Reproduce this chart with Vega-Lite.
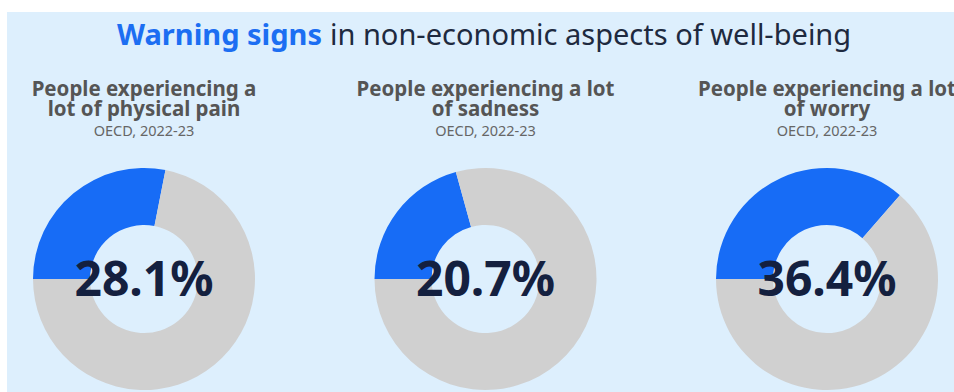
{
  "$schema": "https://vega.github.io/schema/vega-lite/v6.json",
  "autosize": {"type": "none"},
  "width": 947,
  "height": 380,
  "padding": {"left": 7, "top": 12, "right": 0, "bottom": 0},
  "background": "#ffffff",
  "config": {"view": {"fill": "#ddeffd", "stroke": null}, "font": "Noto Sans"},
  "datasets": {
    "parts": [
      {"chart": "Physical pain", "part": "yes", "share": 28.1},
      {"chart": "Physical pain", "part": "no", "share": 71.9},
      {"chart": "Sadness", "part": "yes", "share": 20.7},
      {"chart": "Sadness", "part": "no", "share": 79.3},
      {"chart": "Worry", "part": "yes", "share": 36.4},
      {"chart": "Worry", "part": "no", "share": 63.6}
    ],
    "charts": [
      {"chart": "Physical pain", "title": ["People experiencing a", "lot of physical pain"], "source": "OECD, 2022-23", "value": 0.281},
      {"chart": "Sadness", "title": ["People experiencing a lot", "of sadness"], "source": "OECD, 2022-23", "value": 0.207},
      {"chart": "Worry", "title": ["People experiencing a lot", "of worry"], "source": "OECD, 2022-23", "value": 0.364}
    ],
    "heading": [
      {"bold": "Warning signs", "rest": "in non-economic aspects of well-being"}
    ]
  },
  "layer": [
    {
      "data": {"name": "parts"},
      "transform": [
        {"stack": "share", "groupby": ["chart"], "sort": [{"field": "part", "order": "descending"}], "as": ["t0", "t1"]}
      ],
      "mark": {"type": "arc", "outerRadius": 111, "innerRadius": 54},
      "encoding": {
        "x": {"field": "chart", "type": "nominal", "scale": {"type": "point", "domain": ["Physical pain", "Sadness", "Worry"], "range": [137, 820], "padding": 0}, "axis": null},
        "y": {"value": 267},
        "theta": {"field": "t0", "type": "quantitative", "scale": {"domain": [0, 100], "range": [4.71238898, 10.99557429]}},
        "theta2": {"field": "t1"},
        "color": {"field": "part", "type": "nominal", "scale": {"domain": ["yes", "no"], "range": ["#176cf6", "#d0d0d0"]}, "legend": null}
      }
    },
    {
      "data": {"name": "charts"},
      "mark": {"type": "text", "fontSize": 48, "fontWeight": "bold", "color": "#14203f", "align": "center", "baseline": "alphabetic"},
      "encoding": {
        "x": {"field": "chart", "type": "nominal"},
        "y": {"value": 284},
        "text": {"field": "value", "format": ".1%"}
      }
    },
    {
      "data": {"name": "charts"},
      "mark": {"type": "text", "fontSize": 20.5, "fontWeight": "bold", "color": "#555555", "align": "center", "baseline": "alphabetic", "lineHeight": 19.5},
      "encoding": {
        "x": {"field": "chart", "type": "nominal"},
        "y": {"value": 84},
        "text": {"field": "title"}
      }
    },
    {
      "data": {"name": "charts"},
      "mark": {"type": "text", "fontSize": 14.5, "color": "#666666", "align": "center", "baseline": "alphabetic"},
      "encoding": {
        "x": {"field": "chart", "type": "nominal"},
        "y": {"value": 124},
        "text": {"field": "source"}
      }
    },
    {
      "data": {"name": "heading"},
      "mark": {"type": "text", "fontSize": 29, "fontWeight": "bold", "color": "#1c6ef2", "align": "right", "baseline": "alphabetic"},
      "encoding": {
        "x": {"value": 315},
        "y": {"value": 33},
        "text": {"field": "bold"}
      }
    },
    {
      "data": {"name": "heading"},
      "mark": {"type": "text", "fontSize": 29, "color": "#1e2a40", "align": "left", "baseline": "alphabetic"},
      "encoding": {
        "x": {"value": 323},
        "y": {"value": 33},
        "text": {"field": "rest"}
      }
    }
  ]
}
